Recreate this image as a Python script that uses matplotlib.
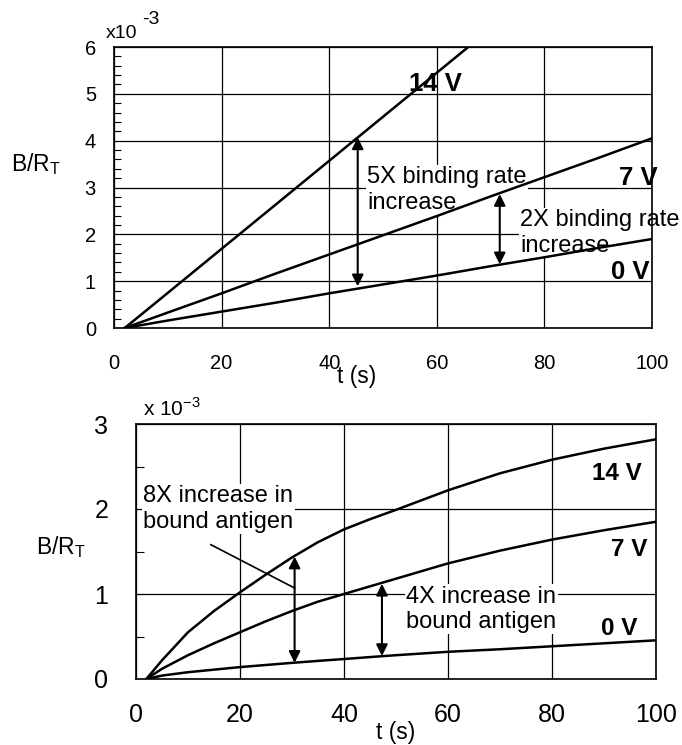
import matplotlib
matplotlib.use("Agg")
import matplotlib.pyplot as plt
from matplotlib.ticker import MultipleLocator

plt.rcParams['font.family'] = ['Liberation Sans', 'DejaVu Sans']

# top panel: binding rate (x1e-3)
t_top = [2, 10, 20, 30, 40, 50, 60, 70, 80, 90, 100]
top_14v = [0, 0.75, 1.69, 2.63, 3.57, 4.51, 5.45, 6.39, 7.33, 8.27, 9.2]
top_7v = [0, 0.33, 0.74, 1.16, 1.57, 1.98, 2.39, 2.81, 3.22, 3.63, 4.05]
top_0v = [0, 0.16, 0.35, 0.54, 0.74, 0.93, 1.12, 1.32, 1.51, 1.71, 1.9]

# bottom panel: bound antigen (x1e-3)
t_bot = [2, 5, 10, 15, 20, 25, 30, 35, 40, 45, 50, 60, 70, 80, 90, 100]
bot_14v = [0, 0.22, 0.55, 0.80, 1.02, 1.23, 1.43, 1.61, 1.76, 1.88, 1.99, 2.22, 2.42, 2.58, 2.71, 2.82]
bot_7v = [0, 0.12, 0.28, 0.42, 0.55, 0.68, 0.80, 0.91, 1.00, 1.09, 1.18, 1.36, 1.51, 1.64, 1.75, 1.85]
bot_0v = [0, 0.04, 0.08, 0.11, 0.14, 0.165, 0.19, 0.213, 0.235, 0.258, 0.28, 0.32, 0.35, 0.385, 0.42, 0.455]

fig = plt.figure(figsize=(6.82, 7.45), dpi=100)
ax1 = fig.add_axes([114/682, 1-328/745, 538/682, 281/745])
ax2 = fig.add_axes([136/682, 1-679/745, 520/682, 255/745])

lw = 1.8
white_box = dict(facecolor='white', edgecolor='none', pad=1)
arrow = dict(arrowstyle='<|-|>', color='k', lw=1.5, mutation_scale=17, shrinkA=0, shrinkB=0)

# ---- top ----
for y in (top_14v, top_7v, top_0v):
    ax1.plot(t_top, y, color='k', lw=lw, zorder=3)
ax1.set_xlim(0, 100)
ax1.set_ylim(0, 6)
ax1.xaxis.set_major_locator(MultipleLocator(20))
ax1.yaxis.set_major_locator(MultipleLocator(1))
ax1.yaxis.set_minor_locator(MultipleLocator(0.2))
ax1.grid(True, color='k', lw=0.9)
ax1.set_axisbelow(True)
ax1.tick_params(axis='both', which='major', length=0, labelsize=14.5)
ax1.tick_params(axis='x', pad=19)
ax1.tick_params(axis='y', pad=13)
ax1.tick_params(axis='y', which='minor', direction='in', length=5, width=0.8)
for s in ax1.spines.values():
    s.set_linewidth(1.2)

fig.text(106/682, 1-38/745, 'x10', fontsize=14, va='baseline', ha='left')
fig.text(142/682, 1-24/745, '-3', fontsize=14, va='baseline', ha='left')
fig.text(11/682, 1-164/745, r'B/R$_\mathregular{T}$', fontsize=16.5, va='center', ha='left')
fig.text(357/682, 1-376/745, 't (s)', fontsize=16.5, va='center', ha='center')

ax1.annotate('', xy=(45.3, 0.89), xytext=(45.3, 4.07), arrowprops=arrow, zorder=4)
ax1.annotate('', xy=(71.7, 1.36), xytext=(71.7, 2.86), arrowprops=arrow, zorder=4)
ax1.text(47.1, 2.95, '5X binding rate\nincrease', fontsize=17, va='center', ha='left',
         linespacing=1.2, bbox=white_box, zorder=2.5)
ax1.text(75.5, 2.03, '2X binding rate\nincrease', fontsize=17, va='center', ha='left',
         linespacing=1.2, bbox=white_box, zorder=2.5)
ax1.text(59.8, 5.2, '14 V', fontsize=18.5, fontweight='bold', va='center', ha='center', zorder=5)
ax1.text(101, 3.2, '7 V', fontsize=18.5, fontweight='bold', va='center', ha='right', zorder=5)
ax1.text(99.5, 1.2, '0 V', fontsize=18.5, fontweight='bold', va='center', ha='right', zorder=5)

# ---- bottom ----
for y in (bot_14v, bot_7v, bot_0v):
    ax2.plot(t_bot, y, color='k', lw=lw, zorder=3)
ax2.set_xlim(0, 100)
ax2.set_ylim(0, 3)
ax2.xaxis.set_major_locator(MultipleLocator(20))
ax2.yaxis.set_major_locator(MultipleLocator(1))
ax2.yaxis.set_minor_locator(MultipleLocator(0.5))
ax2.grid(True, which='major', color='k', lw=0.9)
ax2.set_axisbelow(True)
ax2.tick_params(axis='both', which='major', length=0, labelsize=18)
ax2.tick_params(axis='x', pad=17)
ax2.tick_params(axis='y', pad=20)
ax2.tick_params(axis='y', which='minor', direction='in', length=6, width=0.8)
for s in ax2.spines.values():
    s.set_linewidth(1.2)

fig.text(143/682, 1-408/745, r'x 10$^{\mathregular{-3}}$', fontsize=15, va='center', ha='left')
fig.text(36/682, 1-547/745, r'B/R$_\mathregular{T}$', fontsize=16.5, va='center', ha='left')
fig.text(396/682, 1-733/745, 't (s)', fontsize=16.5, va='center', ha='center')

ax2.annotate('', xy=(30.5, 0.19), xytext=(30.5, 1.44), arrowprops=arrow, zorder=4)
ax2.annotate('', xy=(47.3, 0.27), xytext=(47.3, 1.12), arrowprops=arrow, zorder=4)
ax2.plot([14.4, 30.5], [1.58, 1.07], color='k', lw=1.2, zorder=4)
ax2.text(1.4, 2.0, '8X increase in\nbound antigen', fontsize=17, va='center', ha='left',
         linespacing=1.2, bbox=white_box, zorder=2.5)
ax2.text(52, 0.82, '4X increase in\nbound antigen', fontsize=17, va='center', ha='left',
         linespacing=1.2, bbox=white_box, zorder=2.5)
ax2.text(97.2, 2.42, '14 V', fontsize=17.5, fontweight='bold', va='center', ha='right', zorder=5)
ax2.text(98.3, 1.52, '7 V', fontsize=17.5, fontweight='bold', va='center', ha='right', zorder=5)
ax2.text(96.4, 0.59, '0 V', fontsize=17.5, fontweight='bold', va='center', ha='right', zorder=5)

fig.savefig('out.png', dpi=100)
